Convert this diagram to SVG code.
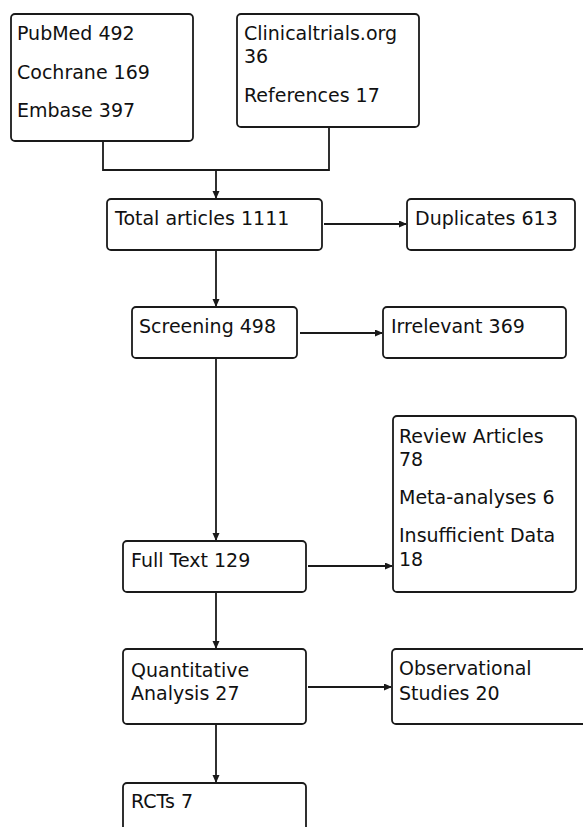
<svg xmlns="http://www.w3.org/2000/svg" width="583" height="827" viewBox="0 0 583 827">
<style>
.box{fill:#fff;stroke:#1a1a1a;stroke-width:1.8}
.t{font-family:"DejaVu Sans",sans-serif;font-size:19px;fill:#111}
.c{fill:none;stroke:#1a1a1a;stroke-width:1.8}
</style>
<defs>
<marker id="ah" markerUnits="userSpaceOnUse" markerWidth="9" markerHeight="8" refX="7" refY="3.5" orient="auto">
<path d="M0,0 L8,3.5 L0,7 z" fill="#1a1a1a"/>
</marker>
</defs>
<rect width="583" height="827" fill="#fff"/>
<g id="connectors">
<path class="c" d="M103,141 V170 H329 V127"/>
<path class="c" d="M216,170 V198" marker-end="url(#ah)"/>
<path class="c" d="M324,224 H406" marker-end="url(#ah)"/>
<path class="c" d="M216,250 V306" marker-end="url(#ah)"/>
<path class="c" d="M300,333 H382" marker-end="url(#ah)"/>
<path class="c" d="M216,358 V540" marker-end="url(#ah)"/>
<path class="c" d="M308,566 H392" marker-end="url(#ah)"/>
<path class="c" d="M216,592 V648" marker-end="url(#ah)"/>
<path class="c" d="M308,687 H391" marker-end="url(#ah)"/>
<path class="c" d="M216,724 V782" marker-end="url(#ah)"/>
</g>
<g id="sources1">
<rect class="box" x="11" y="14" width="182" height="127" rx="4"/>
<text class="t" x="17" y="40">PubMed 492</text>
<text class="t" x="17" y="79">Cochrane 169</text>
<text class="t" x="17" y="117">Embase 397</text>
</g>
<g id="sources2">
<rect class="box" x="237" y="14" width="182" height="113" rx="4"/>
<text class="t" x="244" y="40">Clinicaltrials.org<tspan x="244" y="63">36</tspan></text>
<text class="t" x="244" y="102">References 17</text>
</g>
<g id="total">
<rect class="box" x="107" y="199" width="215" height="51" rx="4"/>
<text class="t" x="115" y="225">Total articles 1111</text>
</g>
<g id="duplicates">
<rect class="box" x="407" y="199" width="168" height="51" rx="4"/>
<text class="t" x="415" y="225">Duplicates 613</text>
</g>
<g id="screening">
<rect class="box" x="132" y="307" width="165" height="51" rx="4"/>
<text class="t" x="139" y="333">Screening 498</text>
</g>
<g id="irrelevant">
<rect class="box" x="383" y="307" width="183" height="51" rx="4"/>
<text class="t" x="391" y="333">Irrelevant 369</text>
</g>
<g id="excluded">
<rect class="box" x="393" y="416" width="183" height="176" rx="4"/>
<text class="t" x="399" y="443">Review Articles<tspan x="399" y="466">78</tspan></text>
<text class="t" x="399" y="504">Meta-analyses 6</text>
<text class="t" x="399" y="542">Insufficient Data<tspan x="399" y="566">18</tspan></text>
</g>
<g id="fulltext">
<rect class="box" x="123" y="541" width="183" height="51" rx="4"/>
<text class="t" x="131" y="567">Full Text 129</text>
</g>
<g id="quantitative">
<rect class="box" x="123" y="649" width="183" height="75" rx="4"/>
<text class="t" x="131" y="677">Quantitative<tspan x="131" y="700">Analysis 27</tspan></text>
</g>
<g id="observational">
<rect class="box" x="392" y="649" width="200" height="75" rx="4"/>
<text class="t" x="399" y="675">Observational<tspan x="399" y="700">Studies 20</tspan></text>
</g>
<g id="rcts">
<rect class="box" x="123" y="783" width="183" height="60" rx="4"/>
<text class="t" x="131" y="808">RCTs 7</text>
</g>
</svg>
